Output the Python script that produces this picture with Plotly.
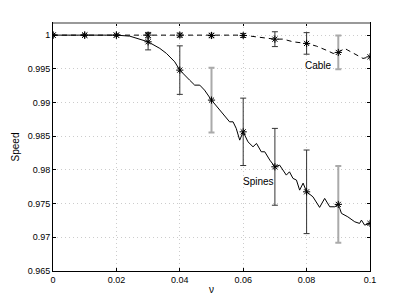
import plotly.graph_objects as go

# ---- data ----
nu_marks = [0, 0.01, 0.02, 0.03, 0.04, 0.05, 0.06, 0.07, 0.08, 0.09, 0.1]
spines_marks = [1, 1, 1, 0.99901, 0.99481, 0.99036, 0.98565, 0.98046, 0.97675, 0.97488, 0.97206]
spines_err = [0, 0, 0, 0.0012, 0.0036, 0.0048, 0.0050, 0.0057, 0.0062, 0.0057, 0]
cable_marks = [1, 1, 1, 1, 1, 0.99995, 0.99995, 0.9994, 0.99877, 0.99743, 0.99678]
cable_err = [0, 0, 0, 0.0004, 0.0003, 0.0003, 0.0003, 0.0011, 0.0016, 0.0025, 0]
gray_bars = [0.05, 0.09]

spines_nu = [0, 0.01, 0.02, 0.0242, 0.03, 0.0337, 0.0358, 0.0384, 0.04, 0.0431, 0.0447,
             0.0463, 0.0478, 0.05, 0.0526, 0.0547, 0.0557, 0.0568, 0.0578, 0.0589, 0.06,
             0.0615, 0.0631, 0.0642, 0.0657, 0.0668, 0.0684, 0.07, 0.0715, 0.0736, 0.0746,
             0.0757, 0.0768, 0.0778, 0.0789, 0.08, 0.082, 0.0841, 0.0857, 0.0873, 0.0889,
             0.09, 0.091, 0.093, 0.0952, 0.0967, 0.0973, 0.0983, 0.1]
spines_curve = [1, 1, 1, 0.99985, 0.99901, 0.99803, 0.99728, 0.99604, 0.99481, 0.99332, 0.99258,
                0.99258, 0.99184, 0.99036, 0.98887, 0.98779, 0.98714, 0.98714, 0.98616, 0.98442, 0.98565,
                0.98417, 0.98343, 0.98393, 0.98269, 0.98269, 0.98145, 0.98046, 0.98071, 0.97923, 0.97972,
                0.97874, 0.97849, 0.97700, 0.97804, 0.97675, 0.97601, 0.97444, 0.97577, 0.97453, 0.97453,
                0.97488, 0.97355, 0.97304, 0.97230, 0.97206, 0.97255, 0.97181, 0.97206]

cable_nu = [0, 0.01, 0.02, 0.03, 0.04, 0.05, 0.06, 0.064, 0.0673, 0.07, 0.0726, 0.0757, 0.08,
            0.0831, 0.0862, 0.0884, 0.09, 0.092, 0.093, 0.0957, 0.0978, 0.1]
cable_curve = [1, 1, 1, 1, 1, 0.99995, 1, 0.99975, 0.99951, 0.9994, 0.99941, 0.99901, 0.99877,
               0.99837, 0.99777, 0.99728, 0.99743, 0.99803, 0.99777, 0.99703, 0.99654, 0.99678]

x_ticks = [0, 0.02, 0.04, 0.06, 0.08, 0.1]
x_ticktext = ["0", "0.02", "0.04", "0.06", "0.08", "0.1"]
y_ticks = [0.965, 0.97, 0.975, 0.98, 0.985, 0.99, 0.995, 1]
y_ticktext = ["0.965", "0.97", "0.975", "0.98", "0.985", "0.99", "0.995", "1"]

FONT = "Liberation Sans, Arial, sans-serif"

fig = go.Figure()

# curves
fig.add_trace(go.Scatter(x=cable_nu, y=cable_curve, mode="lines",
                         line=dict(color="black", width=1, dash="5px,4px"), showlegend=False))
fig.add_trace(go.Scatter(x=spines_nu, y=spines_curve, mode="lines",
                         line=dict(color="black", width=1), showlegend=False))

# error bars
for marks, errs in [(spines_marks, spines_err), (cable_marks, cable_err)]:
    for is_gray in (False, True):
        xs, ys, es = [], [], []
        for x, y, e in zip(nu_marks, marks, errs):
            if e <= 0:
                continue
            if (x in gray_bars) == is_gray:
                xs.append(x); ys.append(y); es.append(e)
        if not xs:
            continue
        fig.add_trace(go.Scatter(
            x=xs, y=ys, mode="markers", marker=dict(size=2, opacity=0),
            error_y=dict(type="data", array=es, visible=True,
                         color="#aaaaaa" if is_gray else "#333333",
                         thickness=2 if is_gray else 1, width=3),
            showlegend=False, hoverinfo="skip"))

# markers
for marks in (spines_marks, cable_marks):
    fig.add_trace(go.Scatter(x=nu_marks, y=marks, mode="markers",
                             marker=dict(symbol="asterisk-open", size=6, color="black",
                                         line=dict(color="black", width=1)),
                             showlegend=False))

fig.add_annotation(x=0.0838, y=0.99545, text="Cable", showarrow=False,
                   font=dict(family=FONT, size=10, color="black"))
fig.add_annotation(x=0.0649, y=0.97834, text="Spines", showarrow=False,
                   font=dict(family=FONT, size=10, color="black"))

# gray top border
fig.add_shape(type="line", xref="paper", yref="paper", x0=0, x1=1, y0=1, y1=1,
              line=dict(color="#999999", width=2))

fig.update_xaxes(range=[0, 0.1], tickvals=x_ticks, ticktext=x_ticktext, automargin=False,
                 showline=True, linecolor="black", linewidth=1, mirror="ticks",
                 ticks="inside", ticklen=3, tickcolor="black",
                 showgrid=True, gridcolor="#cccccc", griddash="1px,3px", gridwidth=1,
                 zeroline=False, tickfont=dict(family=FONT, size=9, color="black"),
                 title=dict(text="ν", font=dict(family=FONT, size=10, color="black"), standoff=2))
fig.update_yaxes(range=[0.965, 1.0018], tickvals=y_ticks, ticktext=y_ticktext, automargin=False,
                 showline=True, linecolor="black", linewidth=1, mirror="ticks",
                 ticks="inside", ticklen=3, tickcolor="black",
                 showgrid=True, gridcolor="#cccccc", griddash="1px,3px", gridwidth=1,
                 zeroline=False, tickfont=dict(family=FONT, size=9, color="black"),
                 title=dict(text="Speed", font=dict(family=FONT, size=10, color="black"), standoff=6))

fig.update_layout(width=409, height=308, margin=dict(l=53, r=39, t=23, b=37),
                  plot_bgcolor="white", paper_bgcolor="white", showlegend=False)

fig.write_html("out.html", config={"displayModeBar": False},
               post_script="document.body.style.margin='0';document.body.style.overflow='hidden';")
